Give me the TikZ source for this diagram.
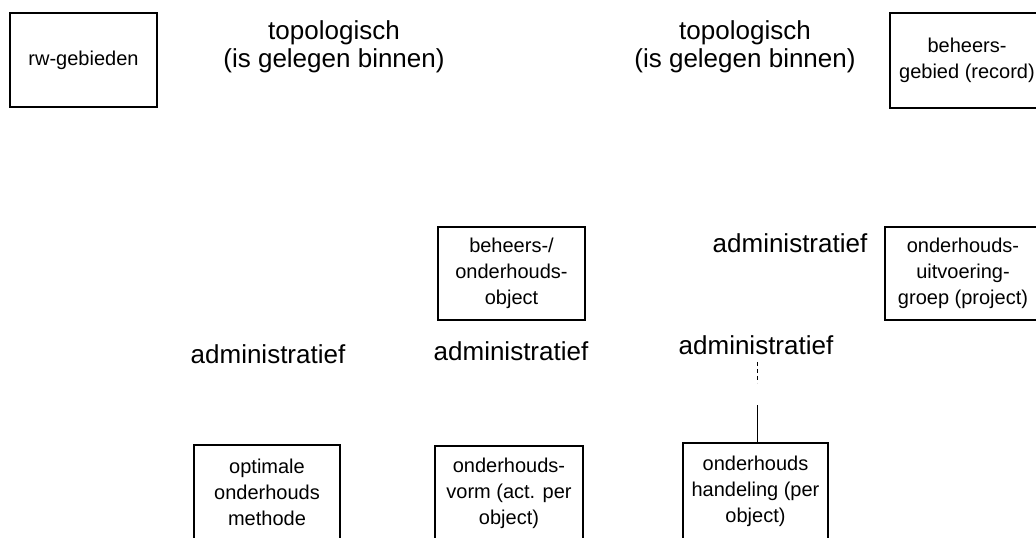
\documentclass[tikz,border=0pt]{standalone}
\usepackage{fontspec}
\setmainfont{Liberation Sans}
\begin{document}
\begin{tikzpicture}[x=1pt,y=-1pt,
  entity/.style={draw=black,line width=2pt,align=center,inner sep=0pt,
    font=\fontsize{20}{26}\selectfont},
  relation/.style={align=center,inner sep=0pt,font=\fontsize{26}{28}\selectfont},
  link/.style={line width=0.9pt}]
\useasboundingbox (0,0) rectangle (1036,538);
\clip (0,0) rectangle (1036,538);
% entities
\node[entity,minimum width=147pt,minimum height=94pt] (rw) at (83.5,60) {rw-gebieden};
\node[entity,minimum width=154pt,minimum height=95pt] (bg) at (967,60.5) {beheers-\\gebied (record)};
\node[entity,minimum width=147pt,minimum height=93pt] (obj) at (511.5,273.5) {beheers-/\\onderhouds-\\object};
\node[entity,minimum width=156pt,minimum height=93pt] (uvg) at (963,273.5) {onderhouds-\\uitvoering-\\groep (project)};
\node[entity,minimum width=146pt,minimum height=95pt] (opt) at (267,492.5) {optimale\\onderhouds\\methode};
\node[entity,minimum width=148pt,minimum height=95pt] (vorm) at (509,493.5) {onderhouds-\\vorm (act. per\\object)};
\node[entity,minimum width=145pt,minimum height=97pt] (hand) at (755.5,491.5) {onderhouds\\handeling (per\\object)};
% relation labels
\node[relation] (topo1) at (334,47) {topologisch\\(is gelegen binnen)};
\node[relation] (topo2) at (745,47) {topologisch\\(is gelegen binnen)};
\node[relation] (adm1) at (790,243) {administratief};
\node[relation] (adm2) at (268,354) {administratief};
\node[relation] (adm3) at (511,351) {administratief};
\node[relation] (adm4) at (756,345) {administratief};
% link from the lower label down to the action box
\coordinate (gap) at (757,405);
\draw[link,dashed,dash pattern=on 4pt off 3pt] ([yshift=-7pt]adm4.south -| gap) -- ++(0,21);
\draw[link] (gap) -- (gap |- hand.north);
\end{tikzpicture}
\end{document}
